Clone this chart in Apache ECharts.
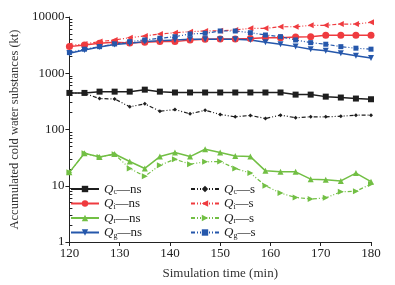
<!DOCTYPE html>
<html>
<head>
<meta charset="utf-8">
<script src="https://cdn.jsdelivr.net/npm/echarts@6/dist/echarts.min.js"></script>
<style>
  html, body { margin: 0; padding: 0; background: #fff; }
  #chart { width: 395px; height: 285px; }
</style>
</head>
<body>
<div id="chart"></div>
<script>
const TIMES = [120, 123, 126, 129, 132, 135, 138, 141, 144, 147, 150, 153, 156, 159, 162, 165, 168, 171, 174, 177, 180];

const QC_NS = [447, 447, 471, 471, 471, 511, 471, 455, 455, 455, 455, 455, 455, 455, 455, 417, 417, 384, 370, 355, 345];
const QC_S  = [447, 440, 354, 350, 253, 286, 211, 226, 190, 220, 185, 168, 178, 157, 180, 162, 168, 168, 172, 180, 180];
const QI_NS = [2974, 3190, 3420, 3560, 3460, 3560, 3650, 3650, 3910, 4020, 4070, 4070, 4150, 4290, 4290, 4410, 4470, 4730, 4730, 4730, 4730];
const QI_S  = [3100, 3320, 3650, 3910, 4290, 4600, 4990, 5260, 5480, 5640, 5710, 5870, 6290, 6290, 6710, 6710, 7110, 7110, 7500, 7500, 8030];
const QR_NS = [17.3, 37.8, 32.5, 36.7, 27, 20.3, 33, 38.9, 33, 44.5, 38.9, 33.9, 33, 18.4, 17.7, 17.7, 13.1, 12.8, 12.2, 16.8, 11.8];
const QR_S  = [17.3, 37.8, 32.5, 36.3, 20.3, 14.7, 23.2, 29.6, 24.2, 26.6, 27, 20.3, 16.8, 10, 7.4, 6.2, 5.8, 6.1, 7.8, 8, 10.7];
const QG_NS = [2275, 2600, 2940, 3230, 3420, 3650, 3800, 3910, 4020, 4020, 4020, 4020, 3910, 3560, 3280, 2975, 2680, 2500, 2275, 2040, 1860];
const QG_S  = [2330, 2680, 2970, 3320, 3650, 3910, 4190, 4470, 4990, 5130, 5640, 5640, 5260, 4790, 4470, 3910, 3500, 3280, 2970, 2790, 2680];

const Y_MAJOR = [1, 10, 100, 1000, 10000];
const Y_MINOR = [2, 3, 4, 5, 6, 7, 8, 9, 20, 30, 40, 50, 60, 70, 80, 90,
  200, 300, 400, 500, 600, 700, 800, 900, 2000, 3000, 4000, 5000, 6000, 7000, 8000, 9000];

const BLACK = "#1e1e1e";
const RED = "#ef3b3f";
const GREEN = "#72bf44";
const BLUE = "#2557ab";
const FONT = "Liberation Serif";
const DASH = [4, 2, 1, 2, 1, 2];

const chart = echarts.init(document.getElementById("chart"), null, { renderer: "canvas" });

function series(name, data, color, symbol, size, rotate, dashed) {
  return {
    name,
    type: "line",
    data: TIMES.map((t, i) => [t, data[i]]),
    symbol,
    symbolSize: size,
    symbolRotate: rotate,
    showSymbol: true,
    itemStyle: { color },
    lineStyle: { color, width: dashed ? 1.2 : 1.5, type: dashed ? DASH : "solid" },
    emphasis: { disabled: true },
    animation: false,
  };
}

// Q with subscript, then "—ns" / "—s"
const rich = {
  q: { fontFamily: FONT, fontStyle: "italic", fontSize: 13, color: "#222", lineHeight: 14, verticalAlign: "bottom" },
  sub: { fontFamily: FONT, fontSize: 8, color: "#222", lineHeight: 6, verticalAlign: "bottom" },
  t: { fontFamily: FONT, fontSize: 13, color: "#222", lineHeight: 14, verticalAlign: "bottom" },
};
const legendFmt = (name) => {
  const [q, suf] = name.split("-");
  return `{q|Q}{sub|${q.slice(1)}}{t|—${suf}}`;
};
const legendBase = {
  orient: "vertical",
  top: 183,
  padding: 0,
  itemWidth: 28,
  itemHeight: 8,
  itemGap: 1.5,
  textStyle: { rich },
  formatter: legendFmt,
};

chart.setOption({
  backgroundColor: "#fff",
  grid: { left: 62.7, right: 24, top: 17, bottom: 41.7 },
  legend: [
    { ...legendBase, left: 70, data: ["Qc-ns", "Qi-ns", "Qr-ns", "Qg-ns"] },
    { ...legendBase, left: 190, data: ["Qc-s", "Qi-s", "Qr-s", "Qg-s"] },
  ],
  xAxis: {
    type: "value",
    min: 120,
    max: 180,
    interval: 10,
    name: "Simulation time (min)",
    nameLocation: "middle",
    nameGap: 25,
    nameTextStyle: { fontFamily: FONT, fontSize: 13, color: "#333" },
    axisLine: { lineStyle: { color: "#222", width: 1 } },
    axisTick: { inside: false, length: 4, lineStyle: { color: "#222" } },
    axisLabel: { fontFamily: FONT, fontSize: 13, color: "#222", margin: 5 },
    splitLine: { show: false },
  },
  yAxis: [
    {
      type: "log",
      min: 1,
      max: 10000,
      logBase: 10,
      name: "Accumulated cold water substances (kt)",
      nameLocation: "middle",
      nameGap: 41,
      nameTextStyle: { fontFamily: FONT, fontSize: 12.5, color: "#333" },
      axisLine: { show: true, lineStyle: { color: "#222", width: 1 } },
      axisTick: { show: true, inside: false, length: 4, customValues: Y_MAJOR, lineStyle: { color: "#222" } },
      axisLabel: {
        fontFamily: FONT, fontSize: 13, color: "#222", margin: 5,
        customValues: Y_MAJOR, formatter: (v) => String(v),
      },
      splitLine: { show: false },
    },
    {
      type: "log",
      min: 1,
      max: 10000,
      logBase: 10,
      position: "left",
      axisLine: { show: false },
      axisTick: { show: true, inside: true, length: 3, customValues: Y_MINOR, lineStyle: { color: "#222" } },
      axisLabel: { show: false },
      splitLine: { show: false },
    },
  ],
  series: [
    series("Qc-ns", QC_NS, BLACK, "rect", 6, 0, false),
    series("Qi-ns", QI_NS, RED, "circle", 7, 0, false),
    series("Qr-ns", QR_NS, GREEN, "triangle", 6, 0, false),
    series("Qg-ns", QG_NS, BLUE, "triangle", 6, 180, false),
    series("Qc-s", QC_S, BLACK, "diamond", 4, 0, true),
    series("Qi-s", QI_S, RED, "triangle", 6, 90, true),
    series("Qr-s", QR_S, GREEN, "triangle", 6, -90, true),
    series("Qg-s", QG_S, BLUE, "rect", 5, 0, true),
  ],
});
</script>
</body>
</html>
